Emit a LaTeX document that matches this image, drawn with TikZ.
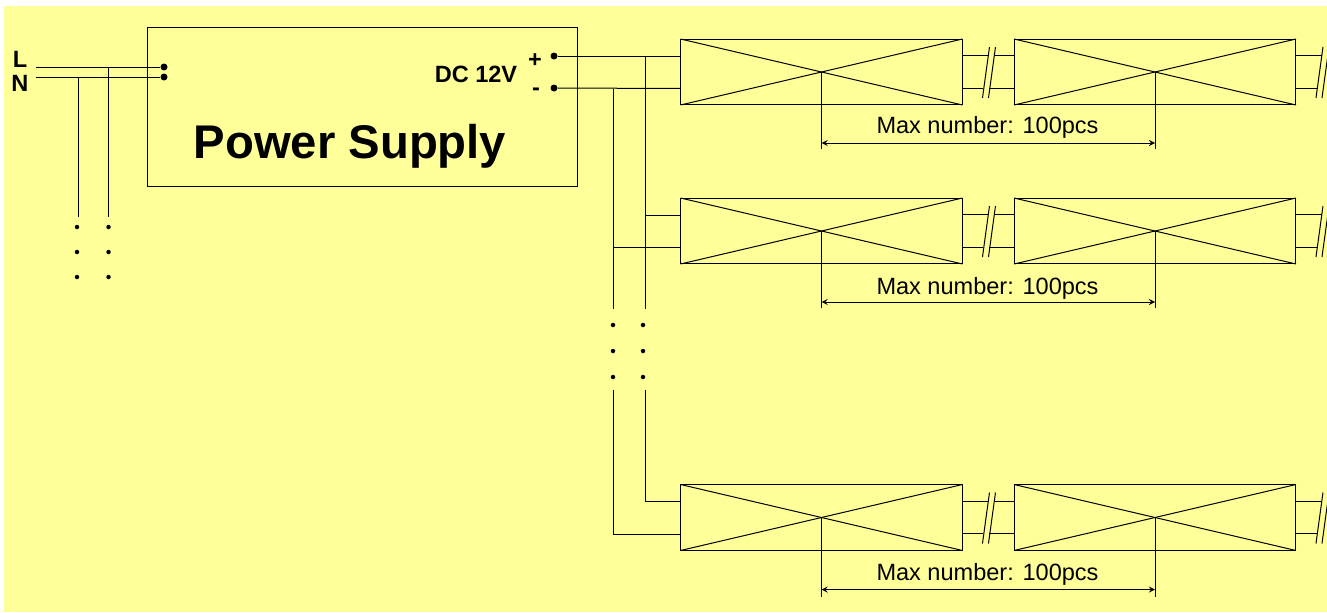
\documentclass[tikz,border=0pt]{standalone}
\usepackage{fontspec}
\setmainfont{Liberation Sans}
\usepackage{xcolor}
\usetikzlibrary{calc}
\definecolor{panel}{HTML}{FFFF99}
\tikzset{
	lamp/.style={draw, minimum width=5.64cm, minimum height=1.32cm, inner sep=0pt, outer sep=0pt},
	terminal/.style={circle, fill, inner sep=0pt, minimum size=0.14cm},
	smalldot/.style={circle, fill, inner sep=0pt, minimum size=0.09cm},
	maxlabel/.style={font=\fontsize{13.4}{15}\selectfont},
	boldlabel/.style={font=\fontsize{13.4}{15}\selectfont\bfseries}
}
\newcommand{\LampBreak}[1]{%
	\draw (#1.east) ++(0,-16.5) -- ++(26,0);
	\draw (#1.east) ++(0,16) -- ++(21,0);
	\draw (#1.east) ++(27,-25) -- ++(-7,51);
	\draw (#1.east) ++(33,-25) -- ++(-7,51);
}

\begin{document}
\begin{tikzpicture}[x=0.02cm, y=-0.02cm, line width=0.569pt]
	\clip (0,0) rectangle (1327,612);
	\fill [panel] (4,6) rectangle (1327,612);

	\node [draw, minimum width=8.62cm, minimum height=3.2cm, outer sep=0pt] (supply) at (362.5,107) {};
	\node [font=\fontsize{26.9}{30}\selectfont\bfseries] (title) at (350,146) {Power Supply};
	\node [boldlabel] (dc) at (476,74) {DC 12V};
	\node [boldlabel] (plus) at (535,61) {+};
	\node [boldlabel] (minus) at (536,92) {-};
	\node [boldlabel] (live) at (20,59) {L};
	\node [boldlabel] (neutral) at (20,83) {N};

	% mains side
	\node [terminal] (tl) at (164,67) {};
	\node [terminal] (tn) at (164,77) {};
	\coordinate (lin) at (36,67);
	\coordinate (nin) at (36,77);
	\draw (lin) -- (tl);
	\draw (nin) -- (tn);
	\draw (108.7,67) -- (108.7,217);
	\draw (78.5,77) -- (78.5,217);
	\foreach \y [count=\i] in {227,252,277} {
		\node [smalldot] (ldot\i) at (77,\y) {};
		\node [smalldot] (ndot\i) at (108.5,\y) {};
	}

	% lamp rows
	\foreach \row/\y/\ty/\dy/\ey in {a/72/127/71/77,b/231/288/71/77,c/517.5/574/72/79} {
		\node [lamp] (lamp\row1) at (821.5,\y) {};
		\node [lamp] (lamp\row2) at (1155,\y) {};
		\foreach \n in {1,2} {
			\draw (lamp\row\n.north west) -- (lamp\row\n.south east);
			\draw (lamp\row\n.south west) -- (lamp\row\n.north east);
			\draw (lamp\row\n.center) -- ++(0,\ey);
			\LampBreak{lamp\row\n}
		}
		\draw (lamp\row1.east) ++(33,-16.5) -- ($(lamp\row2.west)+(0,-16.5)$);
		\draw (lamp\row1.east) ++(27,16) -- ($(lamp\row2.west)+(0,16)$);
		\draw [stealth-stealth] ($(lamp\row1.center)+(0,\dy)$) -- ($(lamp\row2.center)+(0,\dy)$);
		\node [maxlabel] (max\row) at (987.5,\ty) {Max number: 100pcs};
		\coordinate (top\row) at ($(lamp\row1.west)+(0,-16)$);
		\coordinate (bot\row) at ($(lamp\row1.west)+(0,16.5)$);
	}

	% DC side
	\node [terminal] (tp) at (554,56) {};
	\node [terminal] (tm) at (554,88) {};
	\draw (tp) -- (topa);
	\draw (tm) -- (bota);
	\draw (topa -| 645,0) -- (645,309);
	\draw (bota -| 613.5,0) -- (613.5,309);
	\draw (645,215) -- (topb);
	\draw (613.5,247.5) -- (botb);
	\draw (645,390) |- (topc);
	\draw (613.5,390) |- (botc);
	\foreach \y [count=\i] in {325,351,377} {
		\node [smalldot] (mdot\i) at (613,\y) {};
		\node [smalldot] (pdot\i) at (643,\y) {};
	}
\end{tikzpicture}
\end{document}
